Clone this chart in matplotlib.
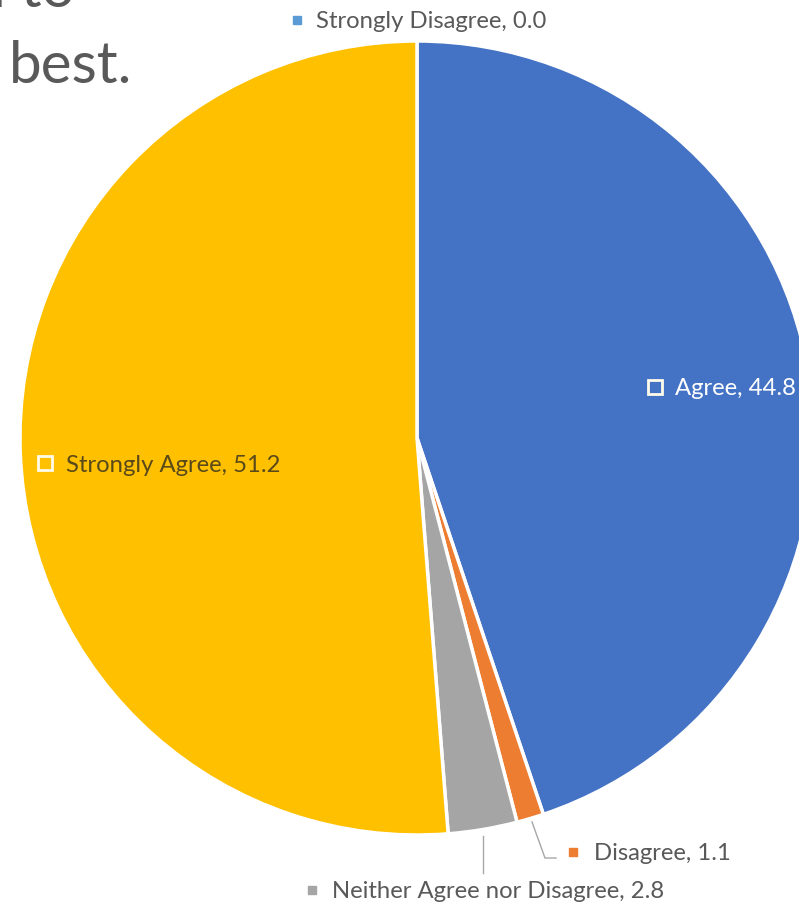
import matplotlib.pyplot as plt

W, H = 799, 909

labels = ['Strongly Disagree', 'Agree', 'Disagree', 'Neither Agree nor Disagree', 'Strongly Agree']
values = [0.0, 44.8, 1.1, 2.8, 51.2]
colors = ['#5B9BD5', '#4472C4', '#ED7D31', '#A5A5A5', '#FFC000']


def px(x, y):
    return x / W, 1 - y / H


plt.rcParams['font.family'] = ['Lato', 'DejaVu Sans']

fig = plt.figure(figsize=(W / 100, H / 100), dpi=100)

# pie centre ~ (417, 438) px, radius ~ 397 px
cx, cy, r = 417, 438, 397
ax = fig.add_axes([(cx - r) / W, 1 - (cy + r) / H, 2 * r / W, 2 * r / H])
ax.pie(values, colors=colors, startangle=90, counterclock=False, radius=1,
       wedgeprops=dict(edgecolor='white', linewidth=2.5))
ax.set_xlim(-1, 1)
ax.set_ylim(-1, 1)
ax.set_aspect('equal')
ax.axis('off')

# fragment of the slide title
fig.text(*px(75, 7), 'd to', fontsize=42, color='#595959', ha='right', va='baseline')
fig.text(*px(9, 83), 'best.', fontsize=42, color='#595959', ha='left', va='baseline')

fs = 17.2
# data labels: (marker x, y, text x, label index, marker style, text colour)
label_pos = [
    (297, 20, 316, 0, 'fill', '#595959'),
    (655, 387, 675, 1, 'hollow', 'white'),
    (573, 852, 594, 2, 'fill', '#595959'),
    (312, 890, 332, 3, 'fill', '#595959'),
    (45, 463, 66, 4, 'hollow', '#5a4a1a'),
]
for mx, my, tx, i, style, tc in label_pos:
    if style == 'fill':
        fig.lines.append(plt.Line2D([mx / W], [1 - my / H], marker='s', markersize=6,
                                    color=colors[i], linestyle='none',
                                    transform=fig.transFigure))
    else:
        fig.lines.append(plt.Line2D([mx / W], [1 - my / H], marker='s', markersize=10,
                                    markerfacecolor='none', markeredgecolor='#FFFBEA',
                                    markeredgewidth=2, linestyle='none',
                                    transform=fig.transFigure))
    fig.text(*px(tx, my), f'{labels[i]}, {values[i]:.1f}', fontsize=fs, color=tc,
             ha='left', va='center_baseline')

# leader lines
lx, ly = zip(*[px(532, 822), px(545, 858), px(556, 858)])
fig.lines.append(plt.Line2D(lx, ly, color='#A6A6A6', linewidth=1, transform=fig.transFigure))
lx, ly = zip(*[px(483, 836), px(483, 873)])
fig.lines.append(plt.Line2D(lx, ly, color='#A6A6A6', linewidth=1, transform=fig.transFigure))

fig.savefig('out.png', dpi=100)
